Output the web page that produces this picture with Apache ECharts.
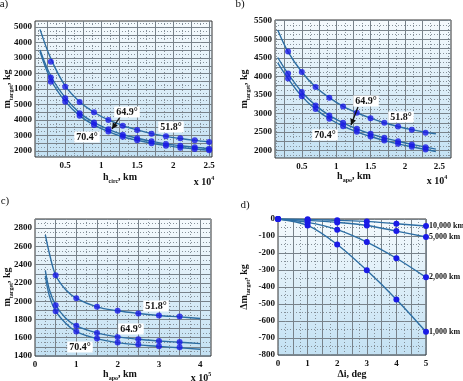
<!DOCTYPE html>
<html><head><meta charset="utf-8">
<script src="https://cdn.jsdelivr.net/npm/echarts@6/dist/echarts.min.js"></script>
<style>html,body{margin:0;padding:0;background:#fff}#c{width:463px;height:381px}</style>
</head><body><div id="c"></div>
<script>
// ---------- DATA ----------
// Panel a) circular orbit altitude (x 10^4 km)
const aPointX = [0.3,0.5,0.7,0.9,1.1,1.3,1.5,1.7,1.9,2.1,2.3,2.5];
const aPts518 = [4880,4075,3580,3250,3000,2815,2675,2555,2475,2410,2345,2290];
const aPts649 = [4375,3700,3215,2915,2700,2525,2410,2310,2225,2170,2120,2075];
const aPts704 = [4235,3590,3140,2840,2625,2460,2345,2250,2170,2105,2065,2020];
const aCurveX = [0.15,0.3,0.5,0.7,0.9,1.1,1.3,1.5,1.7,1.9,2.1,2.3,2.5];
const aCurve518 = [5925,4980,4100,3590,3250,3000,2820,2680,2560,2470,2400,2340,2290];
const aCurve649 = [5260,4420,3720,3230,2920,2700,2530,2410,2310,2230,2170,2120,2080];
const aCurve704 = [5200,4300,3600,3140,2840,2625,2460,2345,2250,2175,2110,2065,2025];
const aYTickValues = [2000,2500,3000,3500,4000,4500,5000,5500,6000];
const aYTickLabels = ['2000','3000','4000','5000','1000','2000','3000','4000','5000'];
const aXTickLabels = ['0.5','1','1.5','2','2.5'];

// Panel b) apogee altitude (x 10^4 km)
const bPointX = [0.3,0.5,0.7,0.9,1.1,1.3,1.5,1.7,1.9,2.1,2.3];
const bPts518 = [4671,4119,3713,3426,3191,3020,2874,2750,2650,2560,2479];
const bPts649 = [4076,3578,3218,2947,2750,2587,2452,2344,2252,2163,2090];
const bPts704 = [3941,3462,3118,2858,2658,2506,2379,2271,2182,2100,2027];
const bCurveX = [0.15,0.3,0.5,0.7,0.9,1.1,1.3,1.5,1.7,1.9,2.1,2.3,2.45];
const bCurve518 = [5248,4660,4119,3713,3426,3191,3020,2874,2750,2650,2565,2495,2452];
const bCurve649 = [4509,4070,3578,3218,2947,2750,2587,2452,2344,2252,2168,2095,2040];
const bCurve704 = [4363,3941,3462,3118,2858,2658,2506,2379,2271,2182,2102,2030,1975];
const bYTickLabels = ['2000','2500','3000','3500','4000','4500','5000','5500'];
const bXTickLabels = ['0.5','1','1.5','2','2.5'];

// Panel c) apogee altitude (x 10^5 km)
const cPointX = [0.5,1,1.5,2,2.5,3,3.5];
const cPts518 = [2284,2031,1938,1895,1866,1844,1833];
const cPts649 = [1957,1730,1653,1609,1583,1565,1554];
const cPts704 = [1891,1668,1591,1547,1525,1507,1496];
const cCurveX = [0.25,0.35,0.5,0.75,1,1.5,2,2.5,3,3.5,4];
const cCurve518 = [2726,2520,2284,2122,2031,1938,1895,1866,1844,1828,1811];
const cCurve649 = [2334,2122,1957,1811,1730,1653,1609,1583,1565,1550,1536];
const cCurve704 = [2276,2056,1891,1756,1668,1591,1547,1522,1505,1490,1474];
const cYTickLabels = ['1400','1600','1800','2000','2200','2400','2600','2800'];
const cXTickLabels = ['0','1','2','3','4'];

// Panel d) inclination change (deg) vs mass change (kg)
const dX = [0,1,2,3,4,5];
const d10000 = [0,-2,-8,-14,-28,-41];
const d5000 = [0,-8,-20,-38,-71,-106];
const d2000 = [0,-20,-63,-136,-231,-343];
const d1000 = [0,-38,-150,-302,-473,-663];
const dSeriesNames = ['10,000 km','5,000 km','2,000 km','1,000 km'];
const dYTickLabels = ['-800','-700','-600','-500','-400','-300','-200','-100','0'];
const dXTickLabels = ['0','1','2','3','4','5'];

const angleLabels = ['51.8°','64.9°','70.4°'];

// ---------- STYLE ----------
const FONT = 'Liberation Serif';
const CURVE = '#2d6ea3';
const DOT = '#1a1ae6';
const LBL = 9;
const zip = (xs, ys) => xs.map((x, i) => [x, ys[i]]);
const range = (a, b, s) => { const r = []; for (let v = a; v <= b + 1e-9; v += s) r.push(+v.toFixed(4)); return r; };

const grids = [], xAxes = [], yAxes = [], series = [], graphics = [];
const bg = {type:'linear', x:0, y:0, x2:0, y2:1, colorStops:[{offset:0,color:'#f5fafd'},{offset:1,color:'#c3e1f3'}]};

function panel(g, xr, yr) {
  const gi = grids.length;
  grids.push({left:g[0], top:g[1], width:g[2], height:g[3], show:true, backgroundColor:bg, borderColor:'#333', borderWidth:1, containLabel:false});
  const base = {gridIndex:gi, type:'value', axisLine:{show:false}, axisTick:{show:false}};
  // minor dotted
  xAxes.push(Object.assign({}, base, {position:'bottom', offset:0, min:xr.min, max:xr.max,
    axisTick:{show:false, customValues:xr.minor}, axisLabel:{show:false},
    splitLine:{show:true, lineStyle:{color:'#86919a', type:[1,2], width:1}}}));
  yAxes.push(Object.assign({}, base, {position:'left', offset:0, min:yr.min, max:yr.max,
    axisTick:{show:false, customValues:yr.minor}, axisLabel:{show:false},
    splitLine:{show:true, lineStyle:{color:'#86919a', type:[1,2], width:1}}}));
  // major solid + labels
  xAxes.push(Object.assign({}, base, {position:'bottom', offset:0, min:xr.min, max:xr.max,
    axisTick:{show:false, customValues:xr.major},
    axisLabel:{customValues:xr.labelsAt, formatter:(v)=>xr.labels[xr.labelsAt.findIndex(t=>Math.abs(t-v)<1e-6)],
      fontFamily:FONT, fontWeight:'bold', fontSize:LBL, color:'#111', margin:4, showMinLabel:true, showMaxLabel:true},
    splitLine:{show:true, lineStyle:{color:'#78828a', width:1}}}));
  yAxes.push(Object.assign({}, base, {position:'left', offset:0, min:yr.min, max:yr.max,
    axisTick:{show:false, customValues:yr.major},
    axisLabel:{customValues:yr.labelsAt, formatter:(v)=>yr.labels[yr.labelsAt.findIndex(t=>Math.abs(t-v)<1e-6)],
      fontFamily:FONT, fontWeight:'bold', fontSize:LBL, color:'#111', margin:3, showMinLabel:true, showMaxLabel:true},
    splitLine:{show:true, lineStyle:{color:'#78828a', width:1}}}));
  return {xi: xAxes.length - 1, yi: yAxes.length - 1};
}
function curve(ax, xs, ys) {
  series.push({type:'line', xAxisIndex:ax.xi, yAxisIndex:ax.yi, data:zip(xs, ys), smooth:0.35, showSymbol:false,
    lineStyle:{color:CURVE, width:1.4}, z:3, silent:true});
}
function dots(ax, xs, ys) {
  series.push({type:'scatter', xAxisIndex:ax.xi, yAxisIndex:ax.yi, data:zip(xs, ys), symbolSize:6,
    itemStyle:{color:DOT}, z:4, silent:true});
}
function txt(x, y, text, opts) {
  graphics.push(Object.assign({type:'text', x:x, y:y, z:100, style:Object.assign({text:text, fontFamily:FONT, fontSize:10, fontWeight:'bold', fill:'#111', align:'center', verticalAlign:'middle'}, opts || {})}));
}
const subRich = {m:{fontFamily:FONT, fontSize:10, fontWeight:'bold', fill:'#111', lineHeight:14, verticalAlign:'middle'},
                 s:{fontFamily:FONT, fontSize:6, fontWeight:'bold', fill:'#111', lineHeight:14, verticalAlign:'bottom', padding:[0,0,0,0]},
                 p:{fontFamily:FONT, fontSize:6, fontWeight:'bold', fill:'#111', lineHeight:14, verticalAlign:'top'}};
function richTxt(x, y, text, rot) {
  graphics.push({type:'text', x:x, y:y, rotation:rot || 0, z:100,
    style:{text:text, rich:subRich, align:'center', verticalAlign:'middle', fontFamily:FONT, fontSize:10}});
}
function angleBox(x, y, text) {
  txt(x, y, text, {backgroundColor:'#fff', padding:[1,2,0,2]});
}
function arrow(x1, y1, x2, y2) {
  graphics.push({type:'line', z:99, shape:{x1:x1, y1:y1, x2:x2, y2:y2}, style:{stroke:'#111', lineWidth:1.3}});
  const a = Math.atan2(y2 - y1, x2 - x1), L = 6, W = 3;
  const bx = x2 - L * Math.cos(a), by = y2 - L * Math.sin(a);
  graphics.push({type:'polygon', z:99, shape:{points:[[x2, y2], [bx + W * Math.sin(a), by - W * Math.cos(a)], [bx - W * Math.sin(a), by + W * Math.cos(a)]]}, style:{fill:'#111'}});
}

// ---------- PANEL a ----------
const axA = panel([35, 21, 177, 136],
  {min:0.08, max:2.54, major:range(0.25, 2.5, 0.25), minor:range(0.125, 2.5, 0.125), labelsAt:[0.5,1,1.5,2,2.5], labels:aXTickLabels},
  {min:1805, max:6195, major:range(2000, 6000, 250), minor:range(1875, 6125, 125), labelsAt:aYTickValues, labels:aYTickLabels});
curve(axA, aCurveX, aCurve518); curve(axA, aCurveX, aCurve649); curve(axA, aCurveX, aCurve704);
dots(axA, aPointX, aPts518); dots(axA, aPointX, aPts649); dots(axA, aPointX, aPts704);

// ---------- PANEL b ----------
const axB = panel([275, 20, 176, 138],
  {min:0.11, max:2.67, major:range(0.25, 2.5, 0.25), minor:range(0.125, 2.625, 0.125), labelsAt:[0.5,1,1.5,2,2.5], labels:bXTickLabels},
  {min:1800, max:5520, major:range(2000, 5500, 250), minor:range(1875, 5500, 125), labelsAt:range(2000, 5500, 500), labels:bYTickLabels});
curve(axB, bCurveX, bCurve518); curve(axB, bCurveX, bCurve649); curve(axB, bCurveX, bCurve704);
dots(axB, bPointX, bPts518); dots(axB, bPointX, bPts649); dots(axB, bPointX, bPts704);

// ---------- PANEL c ----------
const axC = panel([35, 219, 176, 137],
  {min:0, max:4.26, major:range(0.5, 4, 0.5), minor:range(0.25, 4.25, 0.25), labelsAt:[0,1,2,3,4], labels:cXTickLabels},
  {min:1400, max:2900, major:range(1400, 2900, 100), minor:range(1450, 2850, 50), labelsAt:range(1400, 2800, 200), labels:cYTickLabels});
curve(axC, cCurveX, cCurve518); curve(axC, cCurveX, cCurve649); curve(axC, cCurveX, cCurve704);
dots(axC, cPointX, cPts518); dots(axC, cPointX, cPts649); dots(axC, cPointX, cPts704);

// ---------- PANEL d ----------
const axD = panel([278, 219, 148, 136],
  {min:0, max:5, major:range(0.5, 5, 0.5), minor:range(0.25, 4.75, 0.25), labelsAt:[0,1,2,3,4,5], labels:dXTickLabels},
  {min:-800, max:0, major:range(-800, 0, 100), minor:range(-750, -50, 50), labelsAt:range(-800, 0, 100), labels:dYTickLabels});
const dAll = [d10000, d5000, d2000, d1000];
dAll.forEach((arr, k) => {
  series.push({type:'line', xAxisIndex:axD.xi, yAxisIndex:axD.yi, data:zip(dX, arr), smooth:0.3, symbol:'circle', symbolSize:6,
    lineStyle:{color:CURVE, width:1.4}, itemStyle:{color:DOT}, z:3, silent:true,
    endLabel:{show:true, formatter:dSeriesNames[k], fontFamily:FONT, fontWeight:'bold', fontSize:8, color:'#111', distance:3}});
});

// ---------- TEXT / ANNOTATIONS ----------
txt(4, 4, 'a)', {fontWeight:'normal', fontSize:11});
txt(240, 4, 'b)', {fontWeight:'normal', fontSize:11});
txt(5, 201, 'c)', {fontWeight:'normal', fontSize:11});
txt(245, 205, 'd)', {fontWeight:'normal', fontSize:11});

richTxt(7, 89, '{m|m}{s|target}{m|, kg}', Math.PI / 2);
richTxt(244, 89, '{m|m}{s|target}{m|, kg}', Math.PI / 2);
richTxt(7, 287, '{m|m}{s|target}{m|, kg}', Math.PI / 2);
richTxt(244, 287, '{m|Δm}{s|target}{m|, kg}', Math.PI / 2);

richTxt(120, 177, '{m|h}{s|circ}{m|, km}');
richTxt(354, 176, '{m|h}{s|apo}{m|, km}');
richTxt(120, 374, '{m|h}{s|apo}{m|, km}');
txt(352, 374, 'Δi, deg');
richTxt(204, 182, '{m|x 10}{p|4}');
richTxt(437, 181, '{m|x 10}{p|4}');
richTxt(201, 378, '{m|x 10}{p|5}');

angleBox(127, 112, angleLabels[1]);
angleBox(171, 127, angleLabels[0]);
angleBox(87, 137, angleLabels[2]);
arrow(120, 117, 112, 129);

angleBox(366, 101, angleLabels[1]);
angleBox(401, 117, angleLabels[0]);
angleBox(325, 135, angleLabels[2]);
arrow(358, 107, 351, 125);

angleBox(156, 306, angleLabels[0]);
angleBox(131, 329, angleLabels[1]);
angleBox(80, 347, angleLabels[2]);

const chart = echarts.init(document.getElementById('c'), null, {renderer:'canvas'});
chart.setOption({animation:false, grid:grids, xAxis:xAxes, yAxis:yAxes, series:series, graphic:{elements:graphics}});
</script>
</body></html>
